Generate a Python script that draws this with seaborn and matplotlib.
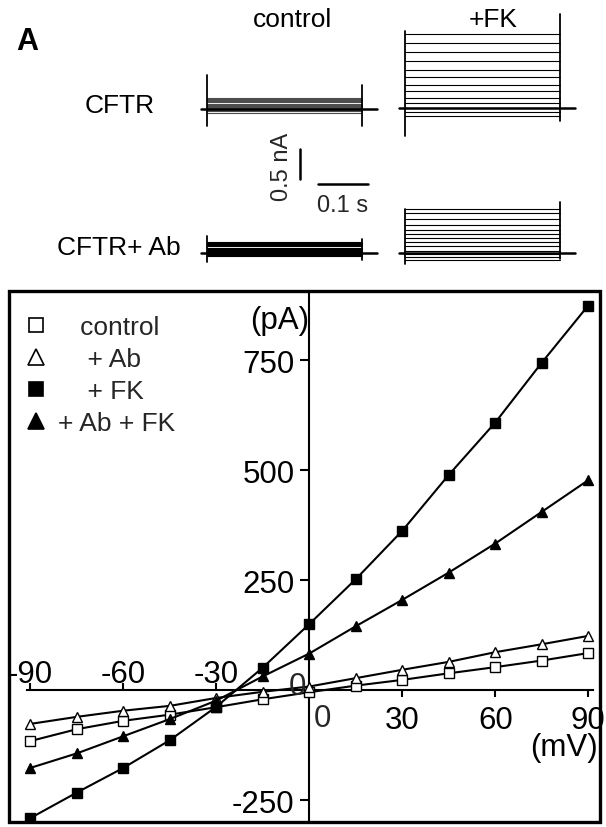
import matplotlib
matplotlib.use('Agg')
from matplotlib import pyplot as plt
from matplotlib.lines import Line2D
from matplotlib.patches import Rectangle
import seaborn as sns

# ---------------- data ----------------
# I-V relation, test potential (mV) vs whole cell current (pA)
voltage = [-90, -75, -60, -45, -30, -15, 0, 15, 30, 45, 60, 75, 90]
i_control = [-116, -89, -70, -56, -39, -21, -5, 10, 23, 38, 52, 67, 84]
i_ab = [-77, -61, -47, -36, -18, -4, 8, 27, 46, 64, 86, 104, 123]
i_fk = [-291, -233, -177, -114, -38, 51, 150, 252, 362, 489, 608, 744, 874]
i_ab_fk = [-177, -144, -105, -66, -24, 31, 83, 145, 205, 267, 333, 405, 477]

x_ticks = [-90, -60, -30, 30, 60, 90]
y_ticks = [-250, 250, 500, 750]

# representative current traces: step levels (nA, relative to holding)
steps_cftr_ctrl = [0.19, 0.17, 0.15, 0.13, 0.11, 0.09, 0.07, 0.05, 0.03, 0.01, -0.02, -0.04, -0.07]
steps_cftr_fk = [1.24, 1.09, 0.93, 0.78, 0.64, 0.52, 0.39, 0.28, 0.17, 0.09, 0.0, -0.07, -0.13]
steps_ab_ctrl = [0.19, 0.17, 0.15, 0.13, 0.11, 0.09, 0.07, 0.05, 0.03, 0.01, -0.01, -0.03, -0.05]
steps_ab_fk = [0.74, 0.66, 0.56, 0.47, 0.39, 0.32, 0.25, 0.18, 0.11, 0.04, -0.01, -0.07, -0.12]

# capacitive transients at pulse on / off (max, min) in nA
spike_on_cftr_ctrl, spike_off_cftr_ctrl = [0.57, -0.29], [0.40, -0.29]
spike_on_cftr_fk, spike_off_cftr_fk = [1.29, -0.46], [1.57, -0.21]
spike_on_ab_ctrl, spike_off_ab_ctrl = [0.29, -0.15], [0.24, -0.12]
spike_on_ab_fk, spike_off_ab_fk = [0.74, -0.18], [0.85, -0.10]

pulse_on, pulse_off = 0.0, 0.31      # s
hold_start, hold_end = -0.012, 0.34  # s
scale_na, scale_s = 0.5, 0.1

# ---------------- figure ----------------
sns.set_theme(style='white')
plt.rcParams['font.family'] = ['Liberation Sans', 'DejaVu Sans']

W, H = 606, 828
fig = plt.figure(figsize=(W / 100, H / 100), dpi=100)


def px_box(left, top, right, bottom):
    return [left / W, 1 - bottom / H, (right - left) / W, (bottom - top) / H]


def fig_text(x, y, s, **kw):
    fig.text(x / W, 1 - y / H, s, ha='center', va='center', color='black', **kw)


#### top panel: current traces ####
T_LIM = (-0.02, 0.36)
I_LIM = (-0.6, 1.6)
PX_S, PX_NA = 500, 60


def trace_axes(t0_px, base_px):
    box = px_box(t0_px + T_LIM[0] * PX_S, base_px - I_LIM[1] * PX_NA,
                 t0_px + T_LIM[1] * PX_S, base_px - I_LIM[0] * PX_NA)
    a = fig.add_axes(box)
    a.set_xlim(T_LIM)
    a.set_ylim(I_LIM)
    a.axis('off')
    return a


def draw_traces(a, steps, spike_on, spike_off, color):
    for lvl in steps:
        a.plot([pulse_on, pulse_off], [lvl, lvl], color=color, lw=0.8)
    a.plot([hold_start, hold_end], [0, 0], color='black', lw=1.8)
    a.plot([pulse_on, pulse_on], spike_on, color='black', lw=1.3)
    a.plot([pulse_off, pulse_off], spike_off, color='black', lw=1.3)


draw_traces(trace_axes(207, 110), steps_cftr_ctrl, spike_on_cftr_ctrl, spike_off_cftr_ctrl, '0.3')
draw_traces(trace_axes(405, 109), steps_cftr_fk, spike_on_cftr_fk, spike_off_cftr_fk, 'black')
draw_traces(trace_axes(207, 254), steps_ab_ctrl, spike_on_ab_ctrl, spike_off_ab_ctrl, 'black')
draw_traces(trace_axes(405, 254), steps_ab_fk, spike_on_ab_fk, spike_off_ab_fk, 'black')

# scale bars
sb = fig.add_axes(px_box(250, 120, 390, 225))
sb.set_xlim(-50 / PX_S, 90 / PX_S)
sb.set_ylim(-45 / PX_NA, 60 / PX_NA)
sb.axis('off')
sb.plot([0, 0], [0, scale_na], color='black', lw=1.8)
sb.plot([0.036, 0.036 + scale_s], [-0.085, -0.085], color='black', lw=1.8)
sb.text(-0.036, scale_na / 2 - 0.03, '0.5 nA', rotation=90, ha='center', va='center', fontsize=17)
sb.text(0.036 + scale_s / 2, -0.43, '0.1 s', ha='center', va='center', fontsize=17)

fig_text(27, 42, 'A', fontsize=22, fontweight='bold')
fig_text(293, 20, 'control', fontsize=19)
fig_text(493, 20, '+FK', fontsize=19)
fig_text(120, 106, 'CFTR', fontsize=19)
fig_text(119, 248, 'CFTR+ Ab', fontsize=19)

#### bottom panel: I-V curves ####
ax = fig.add_axes(px_box(9, 292, 600, 823))
ax.set_xlim(-96.9, 93.8)
ax.set_ylim(-300, 907)
ax.set_facecolor('white')

series = [
    (i_control, 's', 'white', 6.5),
    (i_ab, '^', 'white', 7.5),
    (i_fk, 's', 'black', 6.5),
    (i_ab_fk, '^', 'black', 7.5),
]
for vals, mk, fc, ms in series:
    sns.lineplot(x=voltage, y=vals, ax=ax, color='black', lw=1.5, marker=mk,
                 markersize=ms, markerfacecolor=fc, markeredgecolor='black',
                 markeredgewidth=1.0, zorder=3)

ax.spines['left'].set_position(('data', 0))
ax.spines['bottom'].set_position(('data', 0))
ax.spines['bottom'].set_bounds(x_ticks[0] - 1, x_ticks[-1] + 1.5)
for s in ['top', 'right']:
    ax.spines[s].set_visible(False)
for s in ['left', 'bottom']:
    ax.spines[s].set_color('black')
    ax.spines[s].set_linewidth(1.5)
ax.add_patch(Rectangle((0, 0), 1, 1, transform=ax.transAxes, fill=False,
                       lw=2.4, edgecolor='black', clip_on=False, zorder=5))

ax.set_yticks(y_ticks)
ax.set_yticklabels([str(v) for v in y_ticks])
ax.tick_params(axis='y', left=True, direction='out', length=6.5, width=1.5,
               labelsize=22.5, pad=4, colors='black')

ax.set_xticks(x_ticks)
ax.set_xticklabels([str(v) for v in x_ticks])
ax.xaxis.set_ticks_position('both')
ax.spines['top'].set_position(('data', 0))
ax.tick_params(axis='x', direction='out', length=5, width=1.5, labelsize=22.5,
               labelbottom=True, labeltop=True, colors='black')
for tk, v in zip(ax.xaxis.get_major_ticks(), x_ticks):
    if v < 0:
        tk.tick1line.set_visible(False)
        tk.label1.set_visible(False)
        tk.set_pad(-4.5)
    else:
        tk.tick2line.set_visible(False)
        tk.label2.set_visible(False)
        tk.set_pad(6)

ax.annotate('0', (0, 0), xytext=(-8.5, 3), textcoords='offset points',
            ha='center', va='center', fontsize=22.5)
ax.annotate('0', (0, 0), xytext=(9.5, -20), textcoords='offset points',
            ha='center', va='center', fontsize=22.5)
fig_text(280, 321, '(pA)', fontsize=22.5)
fig_text(564, 748, '(mV)', fontsize=22.5)

handles = [Line2D([], [], ls='', marker=mk, ms=ms + 3.5, mfc=fc, mec='black', mew=1.2)
           for _, mk, fc, ms in series]
labels = ['   control', '    + Ab', '    + FK', '+ Ab + FK']
ax.legend(handles, labels, loc='upper left', bbox_to_anchor=(22.5 / W, 1 - 316 / H),
          bbox_transform=fig.transFigure, frameon=False, fontsize=19,
          handlelength=1.0, handletextpad=0.35, labelspacing=0.3,
          borderpad=0, borderaxespad=0)

fig.savefig('out.png', dpi=100, facecolor='white')
